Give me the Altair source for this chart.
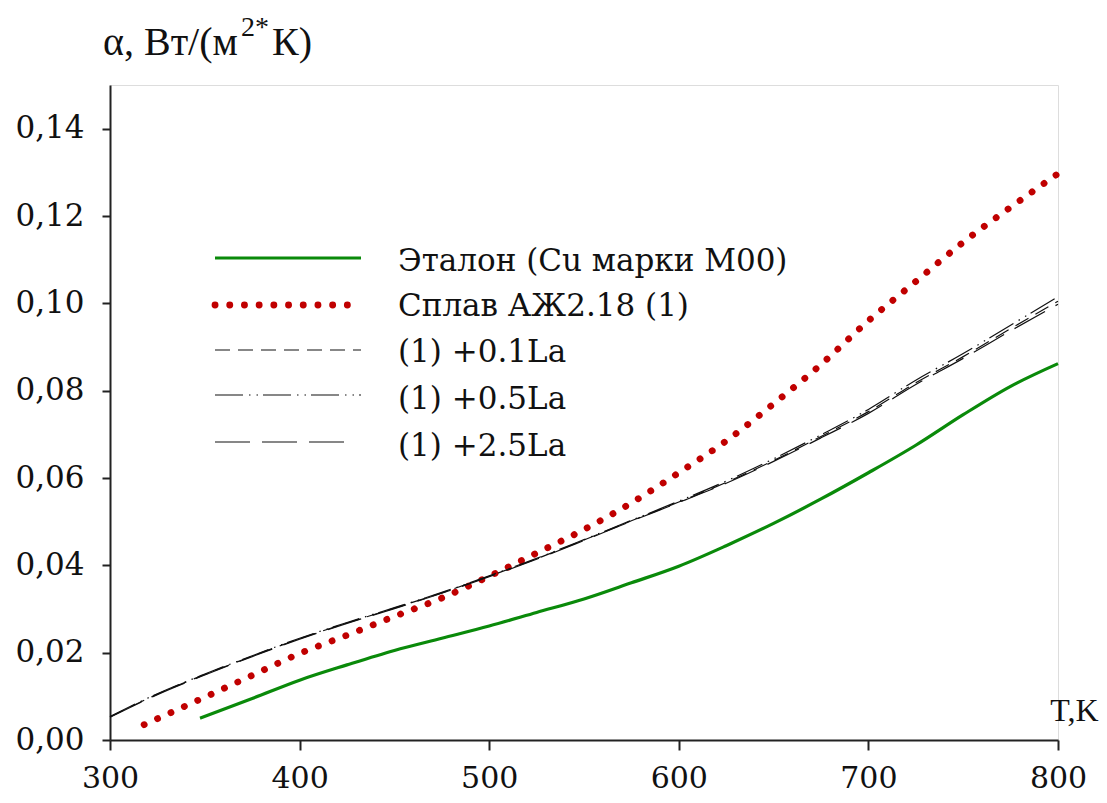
import altair as alt
import pandas as pd

# ---- data ----
T_etalon = [347.5, 375, 400, 425, 450, 475, 500, 525, 550, 575, 600, 625, 650, 675, 700, 725, 750, 775, 800]
A_etalon = [0.0050, 0.0095, 0.0137, 0.0172, 0.0205, 0.0233, 0.0261, 0.0292, 0.0323, 0.0360, 0.0398,
            0.0445, 0.0496, 0.0552, 0.0612, 0.0675, 0.0745, 0.0810, 0.0862]

T_alloy = [318, 350, 375, 400, 425, 450, 475, 500, 525, 550, 575, 600, 625, 650, 675, 700, 725, 750, 775, 800]
A_alloy = [0.0035, 0.0098, 0.0148, 0.0198, 0.0240, 0.0283, 0.0325, 0.0375, 0.0428, 0.0482, 0.0543,
           0.0612, 0.0685, 0.0770, 0.0860, 0.0960, 0.1050, 0.1140, 0.1220, 0.1297]

T_la = [300, 325, 350, 375, 400, 425, 450, 475, 500, 525, 550, 575, 600, 625, 650, 675, 700, 725, 750, 775, 800]
A_la01 = [0.0053, 0.0105, 0.0150, 0.0192, 0.0232, 0.0268, 0.0302, 0.0337, 0.0375, 0.0415, 0.0458,
          0.0502, 0.0545, 0.0590, 0.0640, 0.0695, 0.0752, 0.0818, 0.0878, 0.0942, 0.1005]
A_la05 = [0.0054, 0.0106, 0.0151, 0.0193, 0.0233, 0.0269, 0.0303, 0.0338, 0.0376, 0.0416, 0.0459,
          0.0503, 0.0547, 0.0593, 0.0644, 0.0699, 0.0757, 0.0824, 0.0885, 0.0950, 0.1015]
A_la25 = [0.0052, 0.0104, 0.0149, 0.0191, 0.0231, 0.0267, 0.0301, 0.0336, 0.0374, 0.0414, 0.0457,
          0.0501, 0.0544, 0.0588, 0.0638, 0.0692, 0.0748, 0.0814, 0.0874, 0.0937, 0.0998]

labels = ["Эталон (Cu марки М00)", "Сплав АЖ2.18 (1)", "(1) +0.1La", "(1) +0.5La", "(1) +2.5La"]
x_ticks = [300, 400, 500, 600, 700, 800]
y_ticks = [0.0, 0.02, 0.04, 0.06, 0.08, 0.10, 0.12, 0.14]
title_parts = ["α, Вт/(м", "2*", "К)"]

series = [
    (T_etalon, A_etalon, dict(color="#0a8a0a", strokeWidth=3.2)),
    (T_alloy, A_alloy, dict(color="#c00000", strokeWidth=6.8, strokeDash=[0.1, 14.6], strokeCap="round")),
    (T_la, A_la01, dict(color="#111111", strokeWidth=1.2, strokeDash=[15, 8])),
    (T_la, A_la05, dict(color="#111111", strokeWidth=1.2, strokeDash=[28, 6, 1.5, 6, 1.5, 5])),
    (T_la, A_la25, dict(color="#111111", strokeWidth=1.2, strokeDash=[35, 12])),
]

W, H = 948, 655
SERIF = "DejaVu Serif"
TITLE_FONT = "Liberation Serif"

xscale = alt.Scale(domain=[300, 800], nice=False, zero=False)
yscale = alt.Scale(domain=[0, 0.15], nice=False)

layers = []
# legend layout (pixels inside the plot area)
leg_x0, leg_tx = 105, 288
leg_x1s = [251, 251, 251, 251, 240]
leg_sym_y = [173, 220, 265, 310, 357]
leg_txt_y = [177, 222, 268, 315, 362]

for i, (tv, av, style) in enumerate(series):
    df = pd.DataFrame({"T": tv, "a": av})
    enc = dict(
        x=alt.X("T:Q", scale=xscale,
                axis=alt.Axis(values=x_ticks, title="T,K", titleX=964, titleY=-20,
                              titleAlign="center", titleBaseline="alphabetic",
                              titleFont=TITLE_FONT, titleFontSize=32, titleFontWeight="normal",
                              titleColor="#111", labelFont=SERIF, labelFontSize=30, labelColor="#111",
                              labelBaseline="alphabetic", labelPadding=37,
                              tickSize=10, tickWidth=2, domainWidth=2,
                              domainColor="#222", tickColor="#222", grid=False, labelFlush=False)),
        y=alt.Y("a:Q", scale=yscale,
                axis=alt.Axis(values=y_ticks, title=None,
                              labelExpr="replace(format(datum.value, '.2f'), '.', ',')",
                              labelFont=SERIF, labelFontSize=31, labelColor="#111", labelPadding=18,
                              tickSize=8, tickWidth=2, domainWidth=2, domainColor="#222",
                              tickColor="#222", grid=False)),
    )
    line = alt.Chart(df).mark_line(interpolate="monotone", **style).encode(**enc)
    layers.append(line)

    one = pd.DataFrame({"label": [labels[i]]})
    rule = alt.Chart(one).mark_rule(**style).encode(
        x=alt.value(leg_x0), x2=alt.value(leg_x1s[i]), y=alt.value(leg_sym_y[i]))
    layers.append(rule)
    txt = alt.Chart(one).mark_text(align="left", baseline="middle", font=SERIF, fontSize=31,
                                   color="#111").encode(
        x=alt.value(leg_tx), y=alt.value(leg_txt_y[i]), text="label:N")
    layers.append(txt)

# y-axis title built from pieces (superscript "2*")
tdf = pd.DataFrame({"t": title_parts})
t1 = alt.Chart(tdf[tdf.t == title_parts[0]]).mark_text(
    align="left", baseline="alphabetic", font=TITLE_FONT, fontSize=40, color="#111"
).encode(x=alt.value(-7), y=alt.value(-30), text="t:N")
t2 = alt.Chart(tdf[tdf.t == title_parts[1]]).mark_text(
    align="left", baseline="alphabetic", font=TITLE_FONT, fontSize=28, color="#111"
).encode(x=alt.value(131), y=alt.value(-49), text="t:N")
t3 = alt.Chart(tdf[tdf.t == title_parts[2]]).mark_text(
    align="left", baseline="alphabetic", font=TITLE_FONT, fontSize=40, color="#111"
).encode(x=alt.value(162), y=alt.value(-30), text="t:N")
layers += [t1, t2, t3]

chart = alt.layer(*layers).properties(
    width=W, height=H,
    autosize=alt.AutoSizeParams(type="none"),
    padding={"left": 102, "top": 77, "right": 41, "bottom": 55},
).configure_view(stroke=None).configure(background="white")

chart.save("out.html", embed_options={"renderer": "svg", "actions": False})
